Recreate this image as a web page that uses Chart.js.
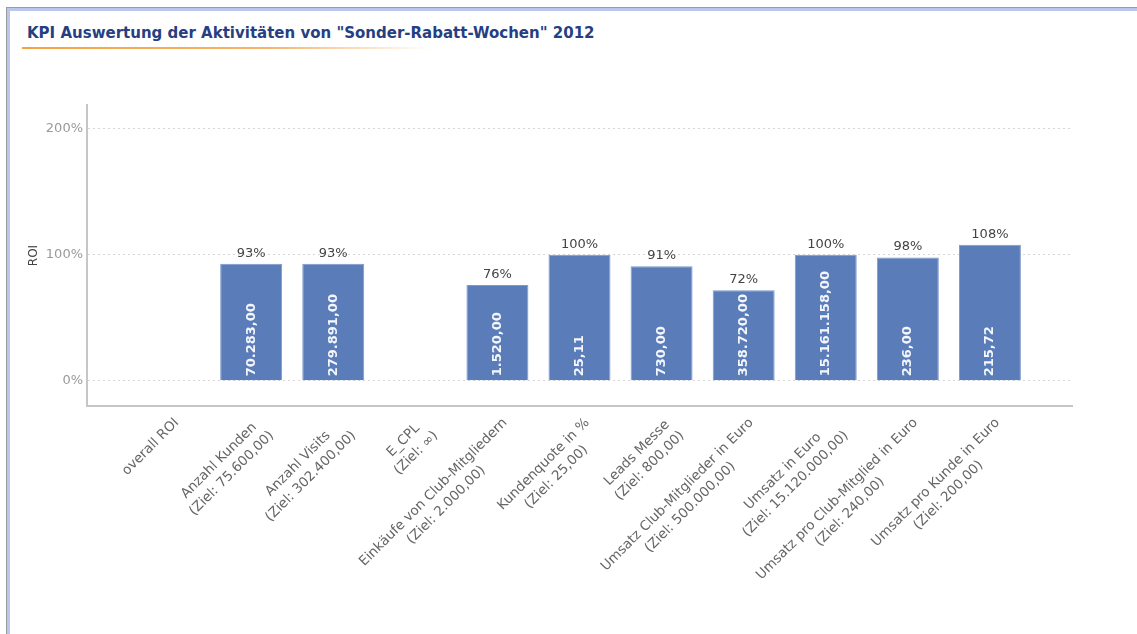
<!DOCTYPE html>
<html>
<head>
<meta charset="utf-8">
<script src="https://cdn.jsdelivr.net/npm/chart.js@4.4.1/dist/chart.umd.min.js"></script>
<style>
html, body { margin: 0; padding: 0; background: #fff; }
body { width: 1137px; height: 634px; position: relative; overflow: hidden; font-family: "DejaVu Sans", sans-serif; }
.frame { position: absolute; left: 6px; top: 7px; right: -10px; bottom: -10px; border-left: 1px solid #9c9c9c; border-top: 1px solid #9c9c9c; }
.frame-inner { position: absolute; left: 0; top: 0; right: 0; bottom: 0; border-left: 3px solid #b9c7ec; border-top: 3px solid #b9c7ec; }
.title { position: absolute; left: 27px; top: 24px; font: bold 15px "DejaVu Sans"; color: #263f82; white-space: nowrap; }
.underline { position: absolute; left: 22px; top: 47px; width: 410px; height: 2px;
  background: linear-gradient(to right, #f4a340 0%, #f6b46a 60%, rgba(255,255,255,0) 100%); }
#wrap { position: absolute; left: 0; top: 0; width: 1137px; height: 634px; }
</style>
</head>
<body>
<div class="frame"><div class="frame-inner"></div></div>
<div class="title">KPI Auswertung der Aktivitäten von "Sonder-Rabatt-Wochen" 2012</div>
<div class="underline"></div>
<div id="wrap"><canvas id="chart"></canvas></div>
<script>
// KPI names and their targets (second line of the axis label)
const categories = ['overall ROI', 'Anzahl Kunden', 'Anzahl Visits', 'E_CPL', 'Einkäufe von Club-Mitgliedern',
  'Kundenquote in %', 'Leads Messe', 'Umsatz Club-Mitglieder in Euro', 'Umsatz in Euro',
  'Umsatz pro Club-Mitglied in Euro', 'Umsatz pro Kunde in Euro'];
const targets = [null, '75.600,00', '302.400,00', '∞', '2.000,00', '25,00', '800,00', '500.000,00',
  '15.120.000,00', '240,00', '200,00'];
// ROI in percent
const roiValues = [null, 93, 93, null, 76, 100, 91, 72, 100, 98, 108];
// actual values written inside the bars
const actualValues = ['', '70.283,00', '279.891,00', '', '1.520,00', '25,11', '730,00', '358.720,00',
  '15.161.158,00', '236,00', '215,72'];
const yTicks = [0, 100, 200];

// one empty slot on each side, like the original axis
const labels = [''].concat(categories, ['']);
const data = [null].concat(roiValues, [null]);

const barLabels = {
  id: 'barLabels',
  afterDatasetsDraw(chart) {
    const ctx = chart.ctx;
    const meta = chart.getDatasetMeta(0);
    meta.data.forEach((bar, i) => {
      const v = data[i];
      if (v == null) return;
      ctx.save();
      ctx.font = '13px "DejaVu Sans"';
      ctx.fillStyle = '#444';
      ctx.textAlign = 'center';
      ctx.textBaseline = 'bottom';
      ctx.fillText(v + '%', bar.x, bar.y - 4);
      ctx.restore();

      ctx.save();
      ctx.translate(bar.x, bar.base - 4);
      ctx.rotate(-Math.PI / 2);
      ctx.font = 'bold 13px "DejaVu Sans"';
      ctx.fillStyle = '#f4f6fb';
      ctx.textAlign = 'left';
      ctx.textBaseline = 'middle';
      ctx.fillText(actualValues[i - 1], 0, 0);
      ctx.restore();
    });
  }
};

// rotated two-line category labels, lines centred on each other
const xLabels = {
  id: 'xLabels',
  afterDraw(chart) {
    const ctx = chart.ctx;
    const xs = chart.scales.x;
    ctx.save();
    ctx.font = '13.5px "DejaVu Sans"';
    ctx.fillStyle = '#666';
    categories.forEach((cat, i) => {
      const lines = [cat];
      if (targets[i]) lines.push('(Ziel: ' + targets[i] + ')');
      const w = Math.max(...lines.map(l => ctx.measureText(l).width));
      const x = xs.getPixelForTick(i + 1);
      ctx.save();
      ctx.translate(x + 3, xs.top + 10);
      ctx.rotate(-Math.PI / 4);
      ctx.textAlign = 'center';
      ctx.textBaseline = 'top';
      lines.forEach((l, j) => ctx.fillText(l, -w / 2, j * 18));
      ctx.restore();
    });
    ctx.restore();
  }
};

new Chart(document.getElementById('chart'), {
  type: 'bar',
  data: {
    labels: labels,
    datasets: [{
      data: data,
      backgroundColor: '#5a7dba',
      borderColor: '#7d98cb',
      borderWidth: 1,
      categoryPercentage: 1,
      barPercentage: 0.755
    }]
  },
  options: {
    responsive: true,
    maintainAspectRatio: false,
    animation: false,
    devicePixelRatio: 1,
    layout: { padding: { left: 27, top: 105, right: 65, bottom: 0 } },
    plugins: { legend: { display: false }, tooltip: { enabled: false } },
    scales: {
      x: {
        offset: false,
        grid: { display: false },
        border: { color: '#c6c6c6', width: 2 },
        ticks: { display: false },
        afterFit: s => { s.height = 634 - 406; }
      },
      y: {
        min: -20,
        max: 219,
        afterBuildTicks: s => { s.ticks = yTicks.map(v => ({ value: v })); },
        grid: { color: '#d6d6d6', drawTicks: false },
        border: { color: '#c6c6c6', width: 2, dash: [2, 3] },
        ticks: { color: '#999', font: { size: 13, family: 'DejaVu Sans' }, padding: 4, callback: v => v + '%' },
        title: { display: true, text: 'ROI', color: '#444', font: { size: 12, family: 'DejaVu Sans' }, padding: 0 },
        afterFit: s => { s.width = 87 - 27; }
      }
    }
  },
  plugins: [barLabels, xLabels]
});
</script>
</body>
</html>
